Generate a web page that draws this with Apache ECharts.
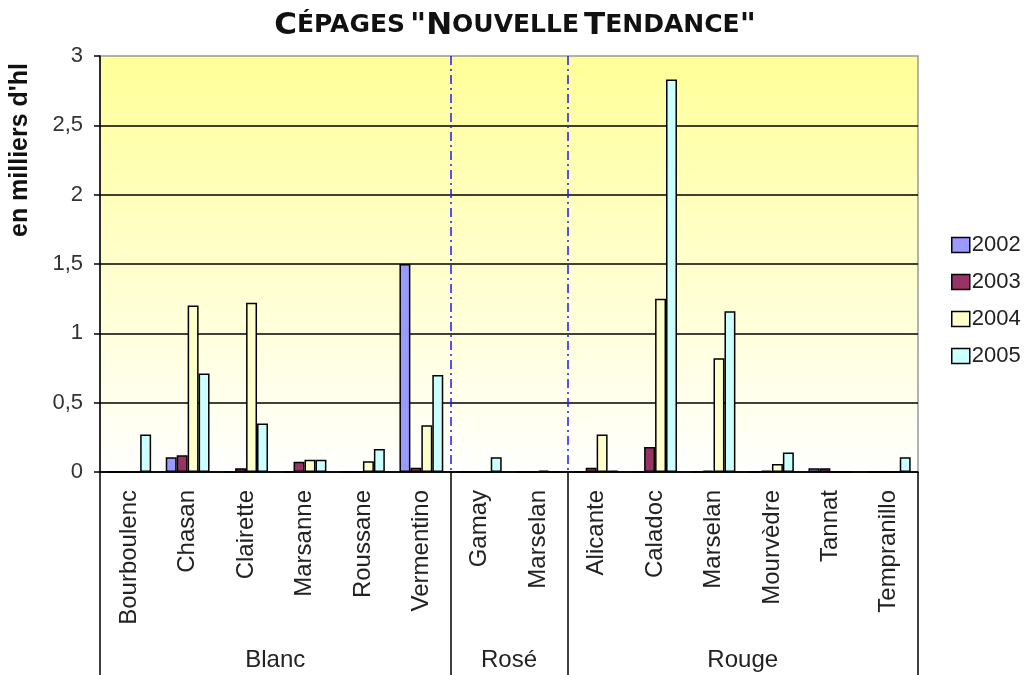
<!DOCTYPE html>
<html>
<head>
<meta charset="utf-8">
<script src="https://cdn.jsdelivr.net/npm/echarts@6/dist/echarts.min.js"></script>
<style>
  html, body { margin: 0; padding: 0; background: #fff; }
  #chart { width: 1027px; height: 675px; }
</style>
</head>
<body>
<div id="chart"></div>
<script>
const cepages = ['Bourboulenc', 'Chasan', 'Clairette', 'Marsanne', 'Roussane', 'Vermentino',
  'Gamay', 'Marselan',
  'Alicante', 'Caladoc', 'Marselan', 'Mourvèdre', 'Tannat', 'Tempranillo'];
const groupNames = ['Blanc', 'Rosé', 'Rouge'];
const groupSizes = [6, 2, 6];
const years = ['2002', '2003', '2004', '2005'];
const v2002 = [0, 0.106, 0, 0, 0, 1.5, 0, 0, 0, 0, 0, 0, 0.027, 0];
const v2003 = [0, 0.12, 0.027, 0.074, 0, 0.03, 0, 0, 0.03, 0.18, 0.01, 0.01, 0.027, 0];
const v2004 = [0, 1.2, 1.22, 0.089, 0.077, 0.337, 0, 0.01, 0.27, 1.25, 0.82, 0.058, 0, 0];
const v2005 = [0.27, 0.71, 0.35, 0.089, 0.166, 0.70, 0.106, 0, 0.01, 2.83, 1.16, 0.14, 0, 0.106];
const yTicks = ['0', '0,5', '1', '1,5', '2', '2,5', '3'];
const colors = ['#9999FF', '#993366', '#FFFFCC', '#CCFFFF'];

// group axis: points on category boundaries (0..14), label in middle of each group
const bounds = [0];
groupSizes.forEach(n => bounds.push(bounds[bounds.length - 1] + n));
const groupAxis = new Array(bounds[bounds.length - 1] + 1).fill('');
groupNames.forEach((g, i) => { groupAxis[(bounds[i] + bounds[i + 1]) / 2] = g; });
const inner = bounds.slice(1, -1);

const FONT = '"Liberation Sans", Arial, sans-serif';
const TITLE_FONT = '"DejaVu Sans", sans-serif';
const chart = echarts.init(document.getElementById('chart'), null, { renderer: 'canvas' });

const values = [v2002, v2003, v2004, v2005];
const series = years.map((y, i) => ({
  name: y,
  type: 'bar',
  data: values[i],
  barGap: '0%',
  barCategoryGap: '25%',
  itemStyle: { color: colors[i], borderColor: '#000', borderWidth: 1.5 },
  animation: false
}));

chart.setOption({
  backgroundColor: '#fff',
  animation: false,
  title: {
    text: '{b|C}{s|ÉPAGES} {b|"N}{s|OUVELLE} {b|T}{s|ENDANCE}{b|"}',
    left: 510,
    textAlign: 'center',
    top: 5,
    textStyle: {
      rich: {
        b: { fontFamily: TITLE_FONT, fontWeight: 'bold', fontSize: 31, color: '#111' },
        s: { fontFamily: TITLE_FONT, fontWeight: 'bold', fontSize: 25, color: '#111' }
      }
    }
  },
  legend: {
    orient: 'vertical',
    left: 946,
    top: 229,
    itemWidth: 18,
    itemHeight: 15,
    itemGap: 15,
    icon: 'rect',
    data: years,
    itemStyle: { borderColor: '#000', borderWidth: 1.5 },
    textStyle: { fontFamily: FONT, fontSize: 22, color: '#222', padding: [0, 0, 0, -3] }
  },
  grid: {
    left: 100, right: 109, top: 56, bottom: 203,
    show: true,
    borderColor: '#999',
    borderWidth: 1.5,
    backgroundColor: new echarts.graphic.LinearGradient(0, 0, 0, 1, [
      { offset: 0, color: '#FFFF99' },
      { offset: 1, color: '#FFFFFF' }
    ])
  },
  xAxis: [
    {
      type: 'category',
      data: cepages,
      axisLine: { lineStyle: { color: '#000', width: 1.5 } },
      axisTick: { length: 158, lineStyle: { color: '#000', width: 1.5 } },
      axisLabel: {
        rotate: 90, margin: 18, interval: 0,
        fontFamily: FONT, fontSize: 24, color: '#222'
      }
    },
    {
      type: 'category',
      data: groupAxis,
      boundaryGap: false,
      position: 'bottom',
      axisLine: { show: false },
      axisTick: {
        length: 203,
        interval: (i) => bounds.includes(i),
        lineStyle: { color: '#000', width: 1.5 }
      },
      axisLabel: {
        margin: 176,
        interval: (i, v) => v !== '',
        fontFamily: FONT, fontSize: 24, color: '#222'
      },
      splitLine: {
        show: true,
        interval: (i) => inner.includes(i),
        lineStyle: { color: '#1a1aff', width: 1.5, type: [9, 4, 2, 4] }
      }
    }
  ],
  yAxis: {
    type: 'value',
    min: 0, max: 3, interval: 0.5,
    axisLine: { show: true, lineStyle: { color: '#000', width: 1.5 } },
    axisTick: { show: true, length: 6, lineStyle: { color: '#000', width: 1.5 } },
    axisLabel: {
      margin: 17,
      fontFamily: FONT, fontSize: 22, color: '#333',
      formatter: (v) => yTicks[Math.round(v * 2)]
    },
    splitLine: { show: true, showMaxLine: false, lineStyle: { color: '#000', width: 1.5 } }
  },
  graphic: [{
    type: 'text',
    x: 8,
    y: 150,
    rotation: Math.PI / 2,
    style: {
      text: "en milliers d'hl",
      font: 'bold 25px ' + FONT,
      fill: '#111',
      textAlign: 'center',
      textVerticalAlign: 'top'
    }
  }],
  series: series
});
</script>
</body>
</html>
